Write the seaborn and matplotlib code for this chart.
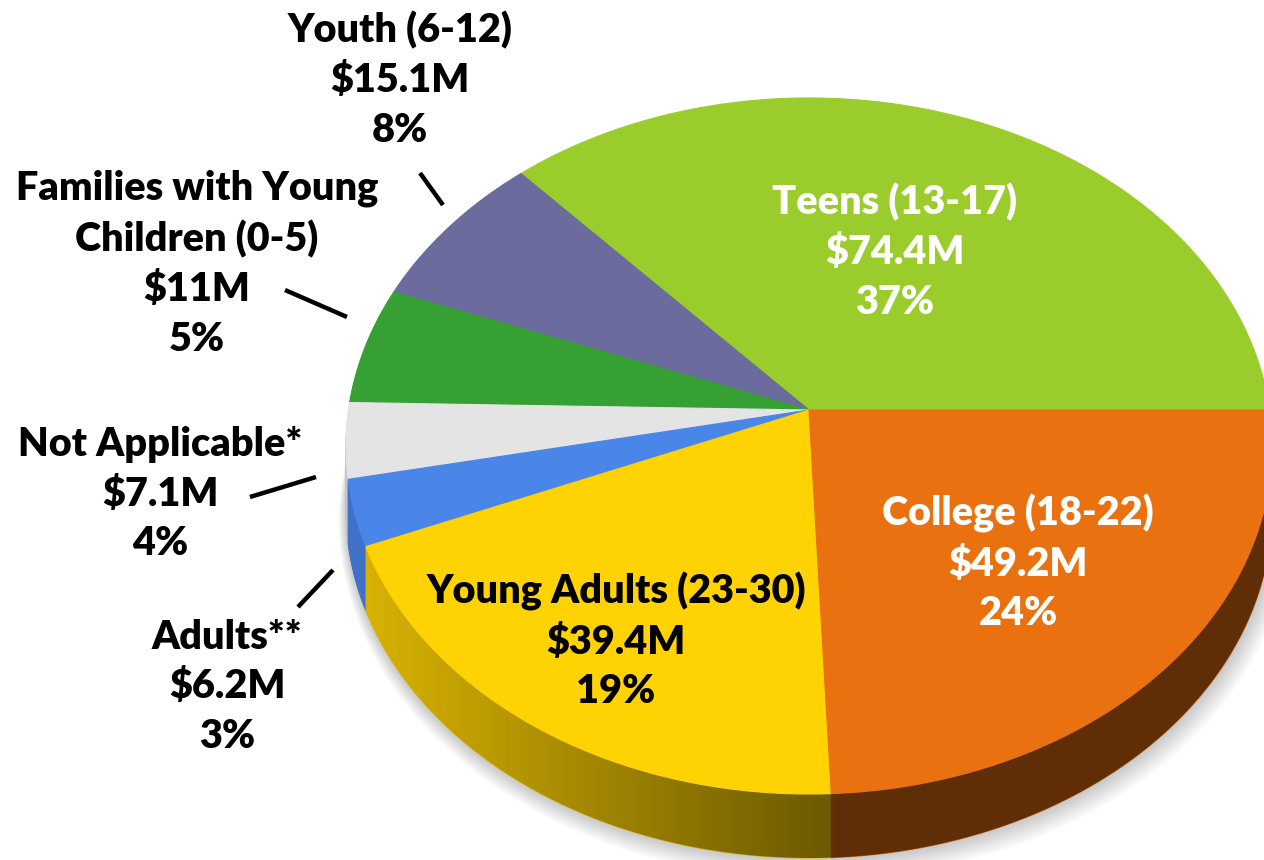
import numpy as np
import matplotlib
matplotlib.use("Agg")
import matplotlib.pyplot as plt
import seaborn as sns
from matplotlib.transforms import Transform, Affine2D
from matplotlib.path import Path
from matplotlib.patches import PathPatch
import matplotlib.colors as mcolors

# ---------------- data ----------------
categories = ["Teens (13-17)", "Youth (6-12)", "Families with Young\nChildren (0-5)",
              "Not Applicable*", "Adults**", "Young Adults (23-30)", "College (18-22)"]
amounts = [74.4, 15.1, 11.0, 7.1, 6.2, 39.4, 49.2]
amount_labels = ["$74.4M", "$15.1M", "$11M", "$7.1M", "$6.2M", "$39.4M", "$49.2M"]
pct_labels = ["37%", "8%", "5%", "4%", "3%", "19%", "24%"]

# ---------------- style / layout ----------------
colors = ["#9ACD2B", "#6B6B9E", "#36A035", "#E4E4E4", "#4A85E8", "#FFD204", "#E9710F"]
text_colors = ["white", "black", "black", "black", "black", "black", "white"]
label_centers = [(895, 252), (400, 80), (197, 264), (160, 494), (227, 687), (616, 641), (1018, 563)]
leader_lines = [None, ((420, 173), (443, 205)), ((285, 290), (347, 317)),
                ((250, 497), (316, 477)), ((298, 607), (333, 570)), None, None]

W, H = 1264, 860
CX, CY = 809, 410          # apex of the pie in pixels
SX, SY, K = 460.5, 344.3, 0.1034   # perspective parameters
DEPTH = 64

sns.set_theme(style="white")
plt.rcParams['font.family'] = ['Lato', 'DejaVu Sans']


class Perspective(Transform):
    """Maps the unit-circle pie onto a tilted (perspective) disc in pixel space."""
    input_dims = 2
    output_dims = 2
    is_separable = False
    has_inverse = False

    def __init__(self, dy=0.0, dx=0.0, grow=1.0):
        super().__init__()
        self.dy, self.dx, self.grow = dy, dx, grow

    def transform_non_affine(self, values):
        v = np.asarray(values, float).reshape(-1, 2)
        w = 1 + K * v[:, 1]
        x = CX + self.dx + SX * self.grow * v[:, 0] / w
        y = CY + self.dy - SY * self.grow * v[:, 1] / w
        return np.column_stack([x, y])

    def transform_path_non_affine(self, path):
        scale = 2000.0
        polys = path.to_polygons(transform=Affine2D().scale(scale), closed_only=True)
        verts, codes = [], []
        for p in polys:
            t = self.transform_non_affine(np.asarray(p) / scale)
            c = np.full(len(t), Path.LINETO, dtype=Path.code_type)
            c[0] = Path.MOVETO
            c[-1] = Path.CLOSEPOLY
            verts.append(t)
            codes.append(c)
        return Path(np.concatenate(verts), np.concatenate(codes))


fig = plt.figure(figsize=(W / 100, H / 100), dpi=100)
ax = fig.add_axes([0, 0, 1, 1])


def draw_pie(cols, transform, zorder, alpha=1.0, edge=True):
    wedges, _ = ax.pie(amounts, colors=cols, startangle=0, counterclock=True, radius=1.0,
                       wedgeprops=dict(linewidth=0.8 if edge else 0, alpha=alpha))
    for w, c in zip(wedges, cols):
        w.set_transform(transform + ax.transData)
        w.set_zorder(zorder)
        if edge:
            w.set_edgecolor(c)
    return wedges


# soft shadow
for s in range(1, 10):
    draw_pie(["#000000"] * len(amounts), Perspective(dy=DEPTH + s * 1.2, dx=s * 0.6, grow=1 + s * 0.003),
             zorder=0.5, alpha=0.022, edge=False)

# side (extrusion)
side_cols = [mcolors.to_hex(np.array(mcolors.to_rgb(c)) * 0.86) for c in colors]
for d in np.arange(DEPTH, 0, -2):
    draw_pie(side_cols, Perspective(dy=float(d)), zorder=1)

# shading gradient on the side band
theta = np.linspace(np.pi, 2 * np.pi, 200)
circ = np.column_stack([np.cos(theta), np.sin(theta)])
top_arc = Perspective().transform_non_affine(circ)
bot_arc = Perspective(dy=DEPTH).transform_non_affine(circ)[::-1]
band = np.vstack([top_arc, bot_arc, top_arc[:1]])
band_patch = PathPatch(Path(band, closed=True), transform=ax.transData, facecolor="none", edgecolor="none")
ax.add_patch(band_patch)
xs = np.linspace(0, W, 400)
alpha_ramp = np.clip((xs - 350) / (840 - 350), 0, 1) * 0.52
grad = np.zeros((1, len(xs), 4))
grad[..., 3] = alpha_ramp
im = ax.imshow(grad, extent=(0, W, H, 0), aspect="auto", zorder=1.5, interpolation="bilinear")
im.set_clip_path(band_patch)

# top face
draw_pie(colors, Perspective(), zorder=2)

# labels
for cat, amt, pct, (x, y), tc in zip(categories, amount_labels, pct_labels, label_centers, text_colors):
    ax.text(x, y, f"{cat}\n{amt}\n{pct}", ha="center", va="center", color=tc,
            fontsize=28.5, fontweight=800, linespacing=1.42, zorder=3)

for ln in leader_lines:
    if ln is not None:
        (x0, y0), (x1, y1) = ln
        ax.plot([x0, x1], [y0, y1], color="black", lw=3.2, solid_capstyle="butt", zorder=3)

ax.set_xlim(0, W)
ax.set_ylim(H, 0)
ax.set_aspect("auto")
ax.axis("off")
fig.savefig("out.png", dpi=100, facecolor="white")
